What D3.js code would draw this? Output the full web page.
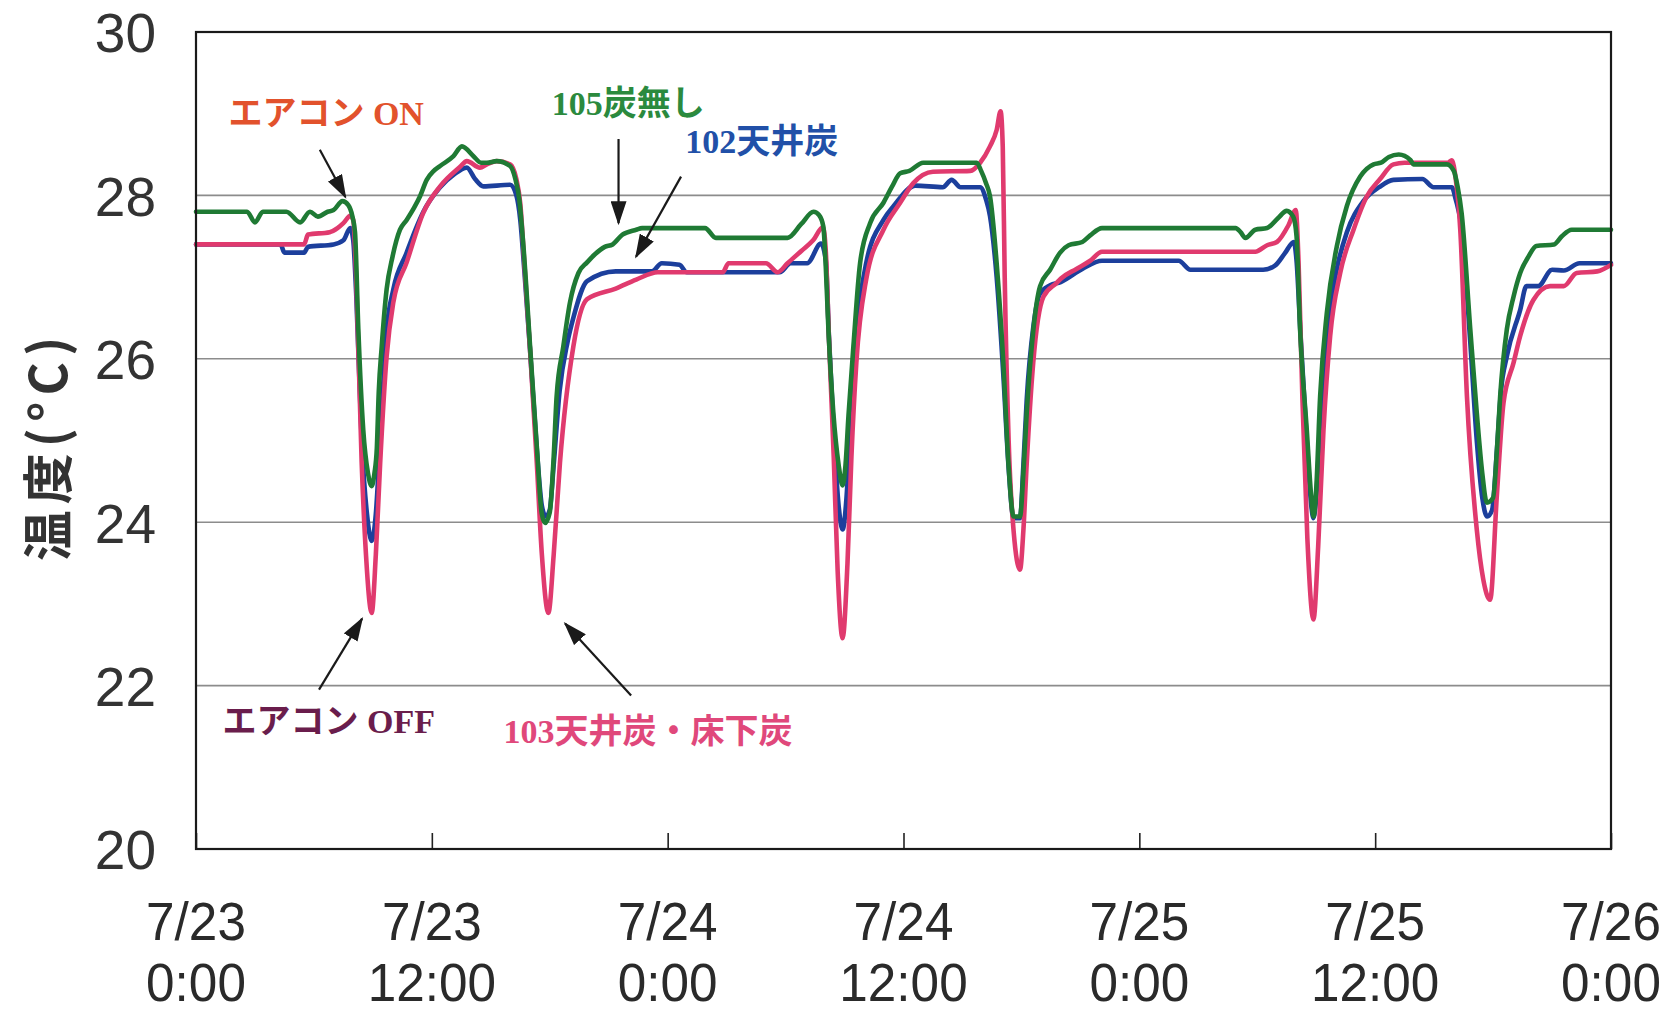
<!DOCTYPE html>
<html><head><meta charset="utf-8">
<script src="https://cdn.jsdelivr.net/npm/d3@7"></script>
<style>
html,body{margin:0;padding:0;background:#fff;}
svg{display:block;}
</style></head>
<body>
<svg id="chart" width="1678" height="1013"></svg>
<script>
// ---- data (hours since 7/23 0:00, temperature °C) ----
const yTicks = [20, 22, 24, 26, 28, 30];
const xTickHours = [0, 12, 24, 36, 48, 60, 72];
const xTickDates = ["7/23", "7/23", "7/24", "7/24", "7/25", "7/25", "7/26"];
const xTickTimes = ["0:00", "12:00", "0:00", "12:00", "0:00", "12:00", "0:00"];

const series105 = [[0,27.8],[2.6,27.8],[3.0,27.67],[3.4,27.8],[4.6,27.8],[5.3,27.67],[5.8,27.8],[6.2,27.74],[6.7,27.8],[7.0,27.82],[7.45,27.93],[7.75,27.88],[7.95,27.75],[8.09,27.55],[8.26,26.36],[8.51,25.13],[8.75,24.6],[8.94,24.44],[9.08,24.6],[9.2,24.9],[9.3,25.6],[9.45,26.15],[9.7,26.85],[10.0,27.25],[10.38,27.58],[10.72,27.7],[11.1,27.85],[11.4,27.99],[11.74,28.19],[12.1,28.3],[12.42,28.36],[13.1,28.48],[13.53,28.6],[14.12,28.48],[14.5,28.4],[14.8,28.4],[15.3,28.42],[15.98,28.36],[16.25,28.2],[16.45,27.95],[16.66,27.38],[17.0,26.15],[17.34,24.93],[17.59,24.11],[17.76,23.99],[18.0,24.12],[18.2,24.8],[18.35,25.54],[18.69,26.15],[19.03,26.69],[19.46,27.05],[19.9,27.18],[20.3,27.28],[20.8,27.37],[21.2,27.4],[21.7,27.52],[22.4,27.58],[22.7,27.6],[25.9,27.6],[26.45,27.48],[30.1,27.48],[30.8,27.65],[31.42,27.8],[31.7,27.76],[31.92,27.62],[32.05,27.1],[32.18,26.36],[32.43,25.34],[32.7,24.7],[32.9,24.45],[33.05,24.7],[33.2,25.3],[33.45,26.15],[33.79,27.17],[34.3,27.66],[34.98,27.91],[35.4,28.1],[35.83,28.27],[36.3,28.3],[37.0,28.4],[39.73,28.4],[39.95,28.3],[40.2,28.15],[40.4,27.99],[40.74,27.17],[41.08,25.95],[41.34,24.72],[41.6,24.07],[41.93,24.07],[42.1,24.6],[42.27,25.34],[42.61,26.36],[42.95,26.89],[43.46,27.09],[43.97,27.3],[44.4,27.39],[45.1,27.43],[45.5,27.51],[46.1,27.6],[52.9,27.6],[53.15,27.55],[53.4,27.48],[53.9,27.58],[54.5,27.6],[55.05,27.72],[55.5,27.81],[55.83,27.74],[56.0,27.5],[56.18,26.36],[56.52,25.13],[56.75,24.3],[56.86,24.07],[57.0,24.4],[57.2,25.54],[57.54,26.56],[58.05,27.38],[58.56,27.87],[59.24,28.23],[59.92,28.38],[60.3,28.4],[60.7,28.47],[61.2,28.5],[61.8,28.43],[61.95,28.38],[63.65,28.38],[64.0,28.3],[64.2,28.1],[64.4,27.78],[64.84,26.36],[65.17,25.34],[65.45,24.6],[65.68,24.24],[66.0,24.3],[66.2,24.9],[66.36,25.54],[66.7,26.36],[67.04,26.76],[67.38,27.05],[67.8,27.25],[68.2,27.38],[69.1,27.4],[69.5,27.5],[70.0,27.58],[72,27.58]];

const series102 = [[0,27.4],[4.3,27.4],[4.5,27.3],[5.5,27.3],[5.7,27.37],[7.0,27.4],[7.5,27.45],[7.85,27.6],[8.0,27.45],[8.15,26.8],[8.43,25.0],[8.7,24.1],[8.94,23.77],[9.15,24.1],[9.37,25.0],[9.7,26.35],[10.04,26.85],[10.72,27.3],[11.2,27.6],[11.57,27.8],[12.42,28.1],[13.1,28.25],[13.78,28.34],[14.2,28.2],[14.62,28.11],[15.98,28.13],[16.3,28.0],[16.5,27.7],[16.7,27.1],[17.0,26.1],[17.34,24.9],[17.6,24.2],[17.8,24.07],[18.0,24.15],[18.2,24.7],[18.5,25.6],[18.9,26.2],[19.2,26.5],[19.9,26.95],[21.36,27.07],[23.2,27.07],[23.7,27.17],[24.6,27.15],[24.97,27.06],[29.7,27.06],[30.26,27.17],[31.1,27.17],[31.8,27.41],[32.05,27.2],[32.2,26.3],[32.43,25.2],[32.7,24.2],[32.9,23.91],[33.1,24.3],[33.3,25.2],[33.6,26.3],[34.1,27.17],[34.98,27.7],[35.5,27.87],[36.6,28.12],[38.0,28.1],[38.45,28.19],[38.9,28.1],[39.9,28.1],[40.2,27.95],[40.4,27.75],[40.74,27.0],[41.08,25.8],[41.34,24.7],[41.6,24.05],[41.93,24.05],[42.1,24.7],[42.27,25.5],[42.61,26.4],[42.95,26.8],[43.46,26.9],[44.0,26.94],[45.1,27.1],[46.1,27.2],[50.0,27.2],[50.6,27.09],[54.3,27.09],[54.9,27.14],[55.4,27.29],[55.86,27.43],[56.0,27.2],[56.2,26.3],[56.52,25.0],[56.75,24.2],[56.86,24.05],[57.0,24.3],[57.2,25.2],[57.54,26.3],[58.05,27.1],[58.56,27.55],[59.4,27.93],[60.2,28.1],[60.93,28.19],[62.4,28.2],[62.97,28.1],[63.9,28.1],[64.1,27.95],[64.4,27.6],[64.84,26.2],[65.17,25.0],[65.45,24.3],[65.7,24.07],[65.95,24.15],[66.2,24.9],[66.4,25.6],[66.7,26.03],[67.38,26.6],[67.7,26.89],[68.3,26.89],[69.0,27.09],[69.6,27.08],[70.4,27.17],[72,27.17]];

const series103 = [[0,27.4],[5.5,27.4],[5.7,27.52],[6.8,27.55],[7.2,27.6],[7.5,27.66],[7.85,27.75],[8.0,27.7],[8.15,27.0],[8.43,24.73],[8.65,23.6],[8.94,22.89],[9.15,23.6],[9.37,24.72],[9.7,26.03],[10.04,26.69],[10.72,27.18],[11.57,27.79],[12.42,28.11],[13.44,28.35],[13.78,28.42],[14.45,28.34],[14.8,28.38],[15.3,28.42],[15.98,28.38],[16.3,28.2],[16.5,27.9],[16.7,27.2],[17.0,26.1],[17.34,24.73],[17.6,23.6],[17.93,22.89],[18.2,23.6],[18.52,24.73],[19.2,26.15],[19.9,26.73],[21.36,26.86],[22.4,26.97],[23.5,27.06],[26.8,27.06],[27.1,27.17],[29.0,27.17],[29.6,27.06],[30.1,27.17],[30.8,27.32],[31.4,27.45],[31.9,27.61],[32.05,27.3],[32.2,26.3],[32.45,24.8],[32.65,23.4],[32.9,22.58],[33.15,23.5],[33.35,24.8],[33.6,25.95],[34.1,26.97],[34.98,27.58],[35.83,27.91],[36.5,28.15],[37.5,28.29],[39.4,28.3],[39.9,28.4],[40.4,28.6],[40.74,28.8],[40.94,29.03],[41.05,28.6],[41.15,27.0],[41.35,25.0],[41.6,23.9],[41.93,23.42],[42.1,23.9],[42.27,24.72],[42.6,25.95],[43.12,26.76],[43.8,26.93],[44.0,26.98],[44.8,27.1],[45.5,27.2],[46.1,27.31],[53.9,27.31],[54.5,27.39],[55.0,27.43],[55.6,27.64],[55.96,27.82],[56.1,27.2],[56.3,25.5],[56.55,23.8],[56.86,22.81],[57.1,23.7],[57.37,25.13],[57.71,26.28],[58.22,27.05],[58.9,27.58],[59.58,27.99],[60.25,28.2],[60.93,28.38],[61.5,28.4],[63.7,28.4],[63.9,28.43],[64.1,28.2],[64.33,27.58],[64.67,25.54],[65.17,23.91],[65.5,23.3],[65.85,23.05],[66.19,24.32],[66.53,25.46],[67.04,25.95],[67.38,26.28],[68.05,26.72],[68.9,26.89],[69.6,26.89],[70.25,27.05],[71.3,27.07],[72,27.15]];

const seriesNames = ["102天井炭", "103天井炭・床下炭", "105炭無し"];
const seriesColors = ["#1c3f9c", "#e03a6e", "#1f7a34"];

// annotations: text and arrows, positions in data units
const labels = [
  {text: "エアコン ON", t: 1.65, v: 28.86, color: "#e2522c"},
  {text: "105炭無し", t: 18.1, v: 28.98, color: "#2b8a3e"},
  {text: "102天井炭", t: 24.9, v: 28.52, color: "#2150a8"},
  {text: "エアコン OFF", t: 1.35, v: 21.42, color: "#6a1d4c"},
  {text: "103天井炭・床下炭", t: 15.65, v: 21.3, color: "#e0487b"}
];
const arrows = [
  {t0: 6.3, v0: 28.56, t1: 7.6, v1: 27.98},
  {t0: 21.5, v0: 28.69, t1: 21.5, v1: 27.66},
  {t0: 24.68, v0: 28.23, t1: 22.39, v1: 27.25},
  {t0: 6.26, v0: 21.95, t1: 8.45, v1: 22.82},
  {t0: 22.14, v0: 21.88, t1: 18.78, v1: 22.76}
];

// ---- drawing ----
const svg = d3.select("#chart");
const L = 196, R = 1611, T = 32, B = 849;
const x = d3.scaleLinear().domain([0, 72]).range([L, R]);
const y = d3.scaleLinear().domain([20, 30]).range([B, T]);

svg.append("rect").attr("width", 1678).attr("height", 1013).attr("fill", "#fff");

// gridlines
svg.append("g").selectAll("line").data(yTicks.filter(d => d > 20 && d < 30)).join("line")
  .attr("x1", L).attr("x2", R).attr("y1", d => y(d)).attr("y2", d => y(d))
  .attr("stroke", "#8c8c8c").attr("stroke-width", 1.6);

// y axis labels
const yAxis = d3.axisLeft(y).tickValues(yTicks).tickSize(0).tickPadding(40).tickFormat(d3.format("d"));
const gy = svg.append("g").attr("transform", `translate(${L},0)`).call(yAxis);
gy.select(".domain").remove();
gy.selectAll("text").attr("font-family", "'Liberation Sans', Arial, sans-serif")
  .attr("font-size", 55).attr("fill", "#333").attr("dy", "0.36em");

// x axis with inward ticks
const xAxis = d3.axisBottom(x).tickValues(xTickHours).tickSizeInner(-16).tickSizeOuter(0).tickFormat("");
const gx = svg.append("g").attr("transform", `translate(0,${B})`).call(xAxis);
gx.select(".domain").remove();
gx.selectAll(".tick line").attr("stroke", "#222").attr("stroke-width", 1.6);

const xlg = svg.append("g").attr("font-family", "'Liberation Sans', Arial, sans-serif")
  .attr("font-size", 54).attr("fill", "#2a2a2a").attr("text-anchor", "middle");
xlg.selectAll("text.d").data(xTickHours).join("text").attr("class", "d")
  .attr("transform", d => `translate(${x(d)},940) scale(0.95,1)`).text((d, i) => xTickDates[i]);
xlg.selectAll("text.t").data(xTickHours).join("text").attr("class", "t")
  .attr("transform", d => `translate(${x(d)},1001) scale(0.95,1)`).text((d, i) => xTickTimes[i]);

// y title
svg.append("text").attr("transform", "translate(67,446) rotate(-90)")
  .attr("text-anchor", "middle").attr("font-family", "'Noto Sans CJK JP', sans-serif")
  .attr("font-weight", "bold").attr("font-size", 51).attr("letter-spacing", 6)
  .attr("fill", "#333").text("温度(°C)");

// lines
const line = d3.line().x(d => x(d[0])).y(d => y(d[1])).curve(d3.curveMonotoneX);
const allSeries = [series102, series103, series105];
svg.append("g").selectAll("path").data(allSeries).join("path")
  .attr("d", line).attr("fill", "none")
  .attr("stroke", (d, i) => seriesColors[i]).attr("stroke-width", 4.6)
  .attr("stroke-linejoin", "round").attr("stroke-linecap", "round")
  .append("title").text((d, i) => seriesNames[i]);

// frame
svg.append("rect").attr("x", L).attr("y", T).attr("width", R - L).attr("height", B - T)
  .attr("fill", "none").attr("stroke", "#1a1a1a").attr("stroke-width", 2.2);

// arrows
const defs = svg.append("defs");
defs.append("marker").attr("id", "ah").attr("viewBox", "0 0 24 16").attr("refX", 22).attr("refY", 8)
  .attr("markerWidth", 24).attr("markerHeight", 16).attr("markerUnits", "userSpaceOnUse").attr("orient", "auto")
  .append("path").attr("d", "M0,0 L24,8 L0,16 Z").attr("fill", "#1a1a1a");
svg.append("g").selectAll("line").data(arrows).join("line")
  .attr("x1", d => x(d.t0)).attr("y1", d => y(d.v0)).attr("x2", d => x(d.t1)).attr("y2", d => y(d.v1))
  .attr("stroke", "#1a1a1a").attr("stroke-width", 2.2).attr("marker-end", "url(#ah)");

// labels
svg.append("g").selectAll("text").data(labels).join("text")
  .attr("x", d => x(d.t)).attr("y", d => y(d.v))
  .attr("font-family", "'Liberation Serif', 'Noto Sans CJK JP', serif")
  .attr("font-weight", "bold").attr("font-size", 34).attr("fill", d => d.color)
  .text(d => d.text);
</script>
</body></html>
